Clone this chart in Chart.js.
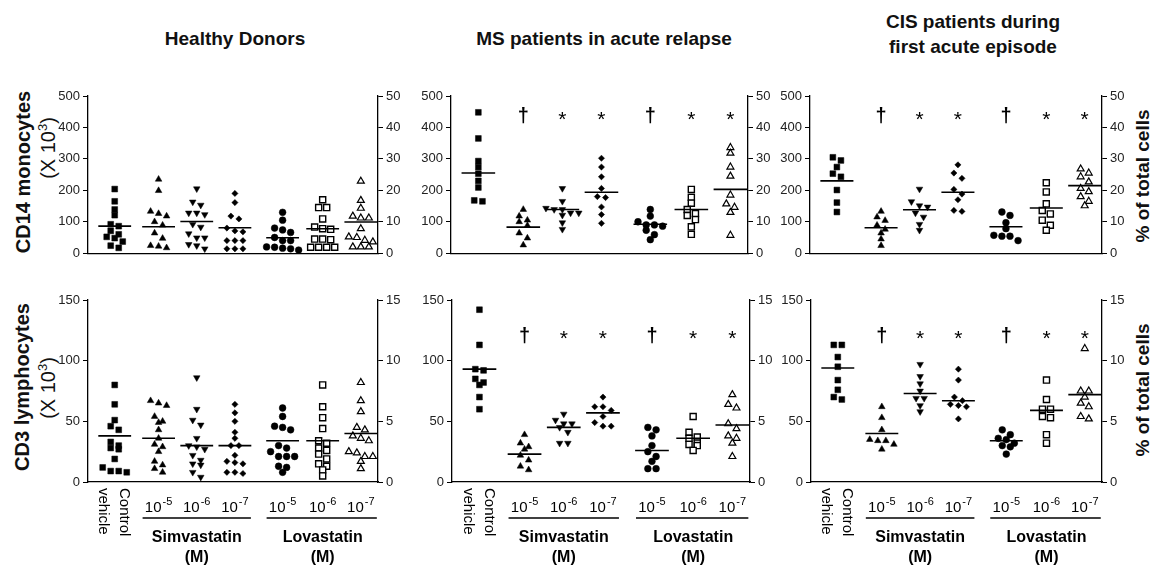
<!DOCTYPE html>
<html>
<head>
<meta charset="utf-8">
<script src="https://cdn.jsdelivr.net/npm/chart.js@4.4.1/dist/chart.umd.min.js"></script>
<style>
  body { margin: 0; background: #fff; width: 1161px; height: 571px; position: relative; overflow: hidden;
         font-family: "Liberation Sans", Arial, sans-serif; color: #111; }
  canvas { position: absolute; }
  .title { position: absolute; font-weight: bold; font-size: 19px; line-height: 25px; white-space: nowrap;
           text-align: center; transform: translate(-50%, -50%); }
  .vert { position: absolute; white-space: nowrap; transform: translate(-50%, -50%) rotate(-90deg); }
  .vert sup { font-size: 13px; vertical-align: 8px; line-height: 0; }
</style>
</head>
<body>
<div class="title" style="left:235px;top:38px">Healthy Donors</div>
<div class="title" style="left:604px;top:38px">MS patients in acute relapse</div>
<div class="title" style="left:973px;top:34px">CIS patients during<br>first acute episode</div>

<div class="vert" style="left:23px;top:172px;font-weight:bold;font-size:20px">CD14 monocytes</div>
<div class="vert" style="left:48px;top:148px;font-size:20px">(X 10<sup>3</sup>)</div>
<div class="vert" style="left:22px;top:387px;font-weight:bold;font-size:20px">CD3 lymphocytes</div>
<div class="vert" style="left:48px;top:388px;font-size:20px">(X 10<sup>3</sup>)</div>
<div class="vert" style="left:1143px;top:176px;font-weight:bold;font-size:19px">% of total cells</div>
<div class="vert" style="left:1143px;top:390px;font-weight:bold;font-size:19px">% of total cells</div>

<script>
// groups: control vehicle, simvastatin 10-5/10-6/10-7, lovastatin 10-5/10-6/10-7
const groupNames = ['Control vehicle', 'Simvastatin 10-5', 'Simvastatin 10-6', 'Simvastatin 10-7',
                    'Lovastatin 10-5', 'Lovastatin 10-6', 'Lovastatin 10-7'];
const exponents = ['', '-5', '-6', '-7', '-5', '-6', '-7'];
const drugNames = ['Simvastatin', 'Lovastatin'];
const sigMarks = ['', '†', '*', '*', '†', '*', '*'];

// CD14 monocytes (x10^3)
const cd14Healthy = [
  [204, 165, 139, 121, 92, 86, 71, 60, 52, 48, 37, 24, 17],
  [235, 199, 133, 126, 118, 100, 89, 64, 47, 24, 22, 17],
  [205, 163, 153, 128, 128, 123, 92, 83, 62, 49, 49, 28, 24, 14],
  [190, 161, 118, 109, 80, 71, 68, 40, 40, 40, 14, 14, 14],
  [130, 105, 80, 74, 66, 50, 40, 40, 20, 19, 16, 14, 10],
  [170, 145, 145, 109, 83, 78, 76, 45, 45, 43, 19, 19, 19, 19],
  [229, 168, 143, 118, 112, 112, 78, 52, 50, 41, 36, 20, 20, 20]
];
const cd14HealthyMed = [86, 84, 101, 81, 49, 78, 99];

const cd14MS = [
  [448, 365, 293, 274, 253, 230, 209, 168, 165],
  [139, 118, 105, 100, 88, 64, 48, 26],
  [206, 165, 143, 139, 139, 128, 128, 121, 97, 76],
  [302, 274, 243, 206, 180, 177, 147, 123, 95],
  [139, 118, 100, 90, 90, 86, 73, 59, 43],
  [203, 178, 159, 139, 126, 120, 107, 84, 60],
  [336, 318, 274, 245, 185, 157, 146, 130, 57]
];
const cd14MSMed = [255, 83, 139, 194, 92, 139, 203];

const cd14CIS = [
  [305, 295, 274, 253, 243, 201, 161, 131],
  [133, 115, 104, 89, 76, 64, 45, 24],
  [204, 164, 151, 147, 128, 115, 92, 73],
  [281, 255, 238, 203, 188, 170, 136, 133],
  [131, 120, 97, 78, 57, 54, 54, 40],
  [224, 195, 157, 136, 125, 105, 89, 73],
  [268, 255, 243, 227, 206, 196, 180, 165, 151]
];
const cd14CISMed = [230, 81, 138, 194, 84, 144, 215];

// CD3 lymphocytes (x10^3)
const cd3Healthy = [
  [80, 64, 51, 46, 43, 33, 30, 28, 27, 19, 12, 9, 9, 8],
  [67, 65, 63, 54, 50, 49, 43, 36, 31, 29, 25, 17, 14, 11, 8],
  [86, 60, 51, 47, 36, 30, 29, 27, 22, 18, 15, 14, 8, 4],
  [64, 57, 50, 41, 36, 30, 30, 22, 17, 16, 15, 8, 8, 7],
  [61, 54, 46, 45, 43, 30, 28, 25, 21, 21, 21, 13, 12, 8],
  [80, 62, 53, 44, 34, 32, 28, 26, 23, 19, 15, 13, 10, 5],
  [82, 67, 58, 45, 43, 38, 36, 34, 25, 24, 21, 21, 17, 11]
];
const cd3HealthyMed = [38, 36, 30, 30, 34, 34, 40];

const cd3MS = [
  [142, 113, 93, 92, 85, 82, 80, 70, 60],
  [39, 32, 29, 27, 22, 18, 13, 10],
  [56, 51, 48, 48, 45, 41, 32, 32],
  [70, 62, 62, 59, 54, 49, 46, 46],
  [45, 43, 38, 30, 25, 21, 17, 11, 11],
  [54, 41, 37, 36, 32, 31, 30, 26],
  [72, 64, 61, 48, 44, 38, 36, 32, 21]
];
const cd3MSMed = [93, 23, 45, 57, 26, 36, 47];

const cd3CIS = [
  [113, 113, 103, 95, 84, 76, 70, 68],
  [62, 53, 43, 35, 34, 34, 31, 27],
  [97, 87, 81, 75, 69, 69, 63, 58],
  [93, 84, 70, 67, 64, 63, 62, 52],
  [43, 39, 36, 35, 32, 30, 29, 23],
  [84, 68, 60, 60, 54, 53, 39, 32],
  [110, 75, 75, 70, 65, 62, 54, 52]
];
const cd3CISMed = [94, 40, 73, 67, 34, 59, 72];

// axis ranges: absolute counts on the left, percentage on the right
const cd14Ticks = { max: 500, step: 100, pctMax: 50, pctStep: 10, markLevel: 434 };
const cd3Ticks = { max: 150, step: 50, pctMax: 15, pctStep: 5, markLevel: 120 };

const FONT = '"Liberation Sans", Arial, sans-serif';
const groupX = [0.7, 1.85, 2.85, 3.85, 5.1, 6.15, 7.15];
const colStep = 0.21;

const markers = [
  { pointStyle: 'rect', radius: 4.1, bg: '#000', bw: 0.5 },
  { pointStyle: 'triangle', radius: 3.8, bg: '#000', bw: 0.5 },
  { pointStyle: 'triangle', radius: 3.8, bg: '#000', bw: 0.5, rotation: 180 },
  { pointStyle: 'rectRot', radius: 3.1, bg: '#000', bw: 0.5 },
  { pointStyle: 'circle', radius: 3.4, bg: '#000', bw: 0.5 },
  { pointStyle: 'rect', radius: 4.3, bg: '#fff', bw: 1.4 },
  { pointStyle: 'triangle', radius: 4, bg: '#fff', bw: 1.2 }
];

// lay out a column of points: values closer than ~5.5px go side by side
function spread(values, cx, gap) {
  const sorted = [...values].sort((a, b) => b - a);
  const pts = [];
  let i = 0;
  while (i < sorted.length) {
    let j = i + 1;
    while (j < sorted.length && sorted[i] - sorted[j] < gap) j++;
    const n = j - i;
    for (let k = 0; k < n; k++) pts.push({ x: cx + (k - (n - 1) / 2) * colStep, y: sorted[i + k] });
    i = j;
  }
  return pts;
}

const annotate = {
  id: 'annotate',
  afterDatasetsDraw(chart, args, opts) {
    const { ctx, chartArea } = chart;
    const x = chart.scales.x, y = chart.scales.y;
    ctx.save();
    ctx.fillStyle = '#000';
    ctx.strokeStyle = '#000';
    if (opts.marks) {
      ctx.textAlign = 'center';
      ctx.textBaseline = 'middle';
      sigMarks.forEach((m, i) => {
        if (!m) return;
        ctx.font = m === '†' ? 'bold 20px ' + FONT : '21px ' + FONT;
        ctx.fillText(m, x.getPixelForValue(groupX[i]), y.getPixelForValue(opts.markLevel) + (m === '*' ? 3 : 0));
      });
    }
    if (opts.xlabels) {
      const base = chartArea.bottom;
      // rotated "Control vehicle"
      ctx.save();
      ctx.translate(x.getPixelForValue(groupX[0]) - 1, base + 6);
      ctx.rotate(Math.PI / 2);
      ctx.font = '15px ' + FONT;
      ctx.textAlign = 'left';
      ctx.textBaseline = 'middle';
      ctx.fillText('Control', 0, -10.5);
      ctx.fillText('vehicle', 0, 10.5);
      ctx.restore();

      // concentrations 10^-n
      ctx.textAlign = 'left';
      ctx.textBaseline = 'alphabetic';
      for (let i = 1; i < 7; i++) {
        ctx.font = '15px ' + FONT;
        const w10 = ctx.measureText('10').width;
        ctx.font = '11px ' + FONT;
        const we = ctx.measureText(exponents[i]).width;
        const start = x.getPixelForValue(groupX[i]) - (w10 + 1 + we) / 2;
        ctx.font = '15px ' + FONT;
        ctx.fillText('10', start, base + 30);
        ctx.font = '11px ' + FONT;
        ctx.fillText(exponents[i], start + w10 + 1, base + 23);
      }

      // drug brackets
      ctx.lineWidth = 1.5;
      ctx.textAlign = 'center';
      ctx.textBaseline = 'middle';
      ctx.font = 'bold 16px ' + FONT;
      drugNames.forEach((name, d) => {
        const a = x.getPixelForValue(groupX[1 + d * 3]) - 16;
        const b = x.getPixelForValue(groupX[3 + d * 3]) + 16;
        ctx.beginPath();
        ctx.moveTo(a, base + 36);
        ctx.lineTo(b, base + 36);
        ctx.stroke();
        const mid = x.getPixelForValue(groupX[2 + d * 3]);
        ctx.fillText(name, mid, base + 56);
        ctx.fillText('(M)', mid, base + 76);
      });
    }
    ctx.restore();
  }
};

function makePanel(box, values, medians, range, marks, xlabels) {
  const padBottom = xlabels ? 90 : 8;
  const canvas = document.createElement('canvas');
  canvas.width = (box.R - box.L) + 60 + 45;
  canvas.height = (box.B - box.T) + 30 + padBottom;
  canvas.style.left = (box.L - 60) + 'px';
  canvas.style.top = (box.T - 30) + 'px';
  document.body.appendChild(canvas);

  const gap = range.max / (box.B - box.T) * 5.5;
  const datasets = [];
  medians.forEach((m, i) => {
    datasets.push({
      type: 'line',
      data: [{ x: groupX[i] - 0.43, y: m }, { x: groupX[i] + 0.43, y: m }],
      borderColor: '#000',
      borderWidth: 1.6,
      pointRadius: 0,
      clip: false
    });
  });
  values.forEach((vals, i) => {
    const mk = markers[i];
    datasets.push({
      type: 'scatter',
      label: groupNames[i],
      data: spread(vals, groupX[i], gap),
      pointStyle: mk.pointStyle,
      pointRadius: mk.radius,
      pointRotation: mk.rotation || 0,
      pointBackgroundColor: mk.bg,
      pointBorderColor: '#000',
      pointBorderWidth: mk.bw,
      clip: false
    });
  });

  const axisTicks = { color: '#222', font: { family: FONT, size: 13 }, padding: 3 };
  const axisGrid = { drawOnChartArea: false, tickLength: 5, color: '#000' };

  new Chart(canvas, {
    type: 'scatter',
    data: { datasets },
    options: {
      responsive: false,
      animation: false,
      events: [],
      layout: { padding: { top: 30, bottom: padBottom, left: 0, right: 0 } },
      plugins: {
        legend: { display: false },
        tooltip: { enabled: false },
        annotate: { marks, xlabels, markLevel: range.markLevel }
      },
      scales: {
        x: {
          type: 'linear', min: 0, max: 7.6,
          ticks: { display: false },
          grid: { display: false, drawTicks: false },
          border: { color: '#000', width: 1.3 }
        },
        y: {
          position: 'left', min: 0, max: range.max,
          ticks: { ...axisTicks, stepSize: range.step },
          grid: axisGrid,
          border: { color: '#000', width: 1.3 },
          afterFit(s) { s.width = 60; }
        },
        y2: {
          position: 'right', min: 0, max: range.pctMax,
          ticks: { ...axisTicks, stepSize: range.pctStep },
          grid: axisGrid,
          border: { color: '#000', width: 1.3 },
          afterFit(s) { s.width = 45; }
        }
      }
    },
    plugins: [annotate]
  });
}

makePanel({ L: 88, R: 378, T: 96, B: 256 }, cd14Healthy, cd14HealthyMed, cd14Ticks, false, false);
makePanel({ L: 451, R: 748, T: 96, B: 256 }, cd14MS, cd14MSMed, cd14Ticks, true, false);
makePanel({ L: 810, R: 1102, T: 96, B: 256 }, cd14CIS, cd14CISMed, cd14Ticks, true, false);
makePanel({ L: 88, R: 378, T: 300, B: 482 }, cd3Healthy, cd3HealthyMed, cd3Ticks, false, true);
makePanel({ L: 452, R: 750, T: 300, B: 482 }, cd3MS, cd3MSMed, cd3Ticks, true, true);
makePanel({ L: 811, R: 1102, T: 300, B: 482 }, cd3CIS, cd3CISMed, cd3Ticks, true, true);
</script>
</body>
</html>
